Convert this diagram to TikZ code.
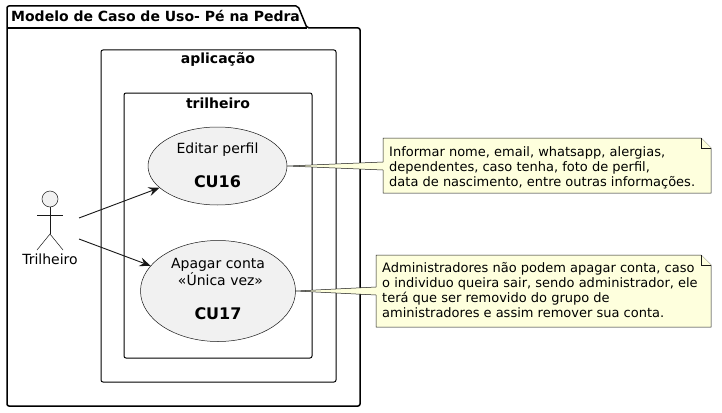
\documentclass[tikz,border=0pt]{standalone}
\usepackage{fontspec}
\setmainfont{DejaVu Sans}
\usetikzlibrary{positioning, arrows.meta, shapes.geometric}
\definecolor{usecasegray}{RGB}{241, 241, 241}
\definecolor{noteyellow}{RGB}{254, 255, 221}
\definecolor{linedark}{RGB}{24, 24, 24}
\tikzset{
    boxframe/.style={draw=black, line width=1pt, rounded corners=2pt},
    boxtitle/.style={font=\fontsize{14}{16}\selectfont\bfseries, inner sep=0pt},
    usecase/.style={ellipse, draw=linedark, line width=0.5pt, fill=usecasegray, inner sep=0pt},
    casetext/.style={align=center, font=\fontsize{14}{17}\selectfont, inner sep=0pt},
    notetext/.style={align=left, font=\fontsize{13}{15.2}\selectfont, inner sep=0pt},
    noteshape/.style={draw=linedark, line width=0.5pt, fill=noteyellow},
    stickman/.style={draw=linedark, line width=0.5pt},
    assoc/.style={draw=linedark, line width=0.9pt, -{Stealth[length=11pt, width=9pt, inset=4pt]}}
}
\newcommand{\casecode}[1]{\\[17pt]{\fontsize{16}{18}\selectfont\bfseries #1}}

\begin{document}
\begin{tikzpicture}[x=1pt, y=-1pt]
    \useasboundingbox (0,0) rectangle (722,412);
    \fill[white] (0,0) rectangle (722,412);

    % frames
    \draw[boxframe, line width=1.5pt] (7,28) -- (7,6) -- (298,6) -- (307,28) -- (360,28) -- (360,406) -- (7,406) -- cycle;
    \draw[boxframe, sharp corners, line width=1.2pt] (7,28) -- (307,28);
    \node[boxtitle, anchor=west] (packagetitle) at (11,16.5) {Modelo de Caso de Uso- Pé na Pedra};
    \draw[boxframe] (101,50) rectangle (336,382);
    \node[boxtitle] (apptitle) at (218,60) {aplicação};
    \draw[boxframe] (124,93) rectangle (312,358);
    \node[boxtitle] (usertitle) at (218,103) {trilheiro};

    % use cases
    \node[usecase, minimum width=139pt, minimum height=78pt] (editar) at (217.5,166) {};
    \node[casetext] (editartext) at (217.5,165) {Editar perfil\casecode{CU16}};
    \node[usecase, minimum width=155pt, minimum height=101pt] (apagar) at (218,291) {};
    \node[casetext] (apagartext) at (218,289.5) {Apagar conta\\\hspace*{5pt}«Única vez»\casecode{CU17}};

    % actor
    \node[circle, stickman, fill=usecasegray, minimum size=16pt, inner sep=0pt] (head) at (50,199) {};
    \coordinate (hip) at (50,234);
    \coordinate (armleft) at (37,215);
    \coordinate (armright) at (63,215);
    \coordinate (footleft) at (37,250);
    \coordinate (footright) at (63,250);
    \draw[stickman] (head) -- (hip);
    \draw[stickman] (armleft) -- (armright);
    \draw[stickman] (footleft) -- (hip) -- (footright);
    \node[inner sep=0pt, font=\fontsize{14}{16}\selectfont] (trilheiro) at (50,259) {Trilheiro};
    \coordinate (actorup) at (79,218);
    \coordinate (actordown) at (79,239);
    \draw[assoc] (actorup) -- (editar);
    \draw[assoc] (actordown) -- (apagar);

    % notes
    \draw[noteshape] (383,138) -- (701,138) -- (711,148) -- (711,193) -- (383,193) -- (383,170) -- (editar.east) -- (383,162) -- cycle;
    \draw[noteshape] (701,138) -- (701,148) -- (711,148);
    \node[notetext, anchor=north west] (noteperfil) at (389,146) {Informar nome, email, whatsapp, alergias,\\dependentes, caso tenha, foto de perfil,\\data de nascimento, entre outras informações.};
    \draw[noteshape] (376,255) -- (701,255) -- (711,265) -- (711,327) -- (376,327) -- (376,295) -- (apagar.east) -- (376,287) -- cycle;
    \draw[noteshape] (701,255) -- (701,265) -- (711,265);
    \node[notetext, anchor=north west] (noteconta) at (382,262) {Administradores não podem apagar conta, caso\\o individuo queira sair, sendo administrador, ele\\terá que ser removido do grupo de\\aministradores e assim remover sua conta.};
\end{tikzpicture}
\end{document}
